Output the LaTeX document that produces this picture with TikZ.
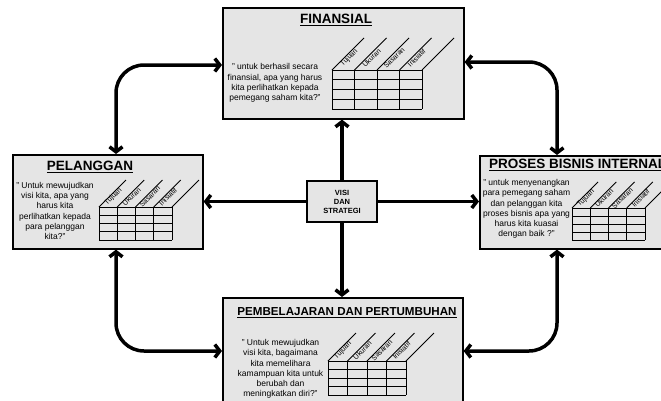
\documentclass[tikz,border=0pt]{standalone}
\usepackage{fontspec}
\setmainfont{Liberation Sans}
\usetikzlibrary{arrows.meta}
\definecolor{panelgray}{gray}{0.9}

% grid with slanted column heads: x0, top y, column width, row height, slant
\newcommand{\kpitable}[5]{%
  \foreach \k in {0,...,4}{
    \draw[gridline] ({#1+\k*#3},#2) -- ++(0,{4*#4});
    \draw[gridline] ({#1+\k*#3},#2) -- ++(#5,{-#5});
    \draw[gridline] (#1,{#2+\k*#4}) -- ++({4*#3},0);
  }
  \foreach \lab [count=\k from 0] in {Tujuan,Ukuran,Sasaran,Inisiatif}
    \node[collabel] at ({#1+(\k+0.22)*#3+0.38*#5},{#2-0.38*#5}) {\lab};
}

\begin{document}
\begin{tikzpicture}[x=1pt,y=-1pt,
  panel/.style={draw=black, line width=1.6pt, fill=panelgray, anchor=north west, inner sep=0pt},
  visibox/.style={draw=black, line width=1.6pt, fill=panelgray, minimum width=70pt, minimum height=41pt,
    align=center, inner sep=0pt, font=\bfseries\fontsize{7.5}{9}\selectfont},
  title/.style={font=\bfseries\fontsize{13.5}{15}\selectfont, inner sep=0pt},
  quote/.style={font=\fontsize{8.5}{10.3}\selectfont, align=center, inner sep=0pt},
  gridline/.style={line width=0.9pt},
  collabel/.style={font=\fontsize{7}{8}\selectfont, rotate=45, inner sep=0pt},
  arr/.style={line width=3.5pt, -{Straight Barb[length=5pt,width=13pt]}},
  dbl/.style={line width=3.5pt, {Straight Barb[length=5pt,width=13pt]}-{Straight Barb[length=5pt,width=13pt]}, rounded corners=28pt}]

\useasboundingbox (0,0) rectangle (661,400);
\clip (0,0) rectangle (661,400);

% perspective panels
\node[panel, minimum width=241pt, minimum height=111pt] (fin) at (222,7) {};
\node[panel, minimum width=190pt, minimum height=94pt] (pel) at (12,154) {};
\node[panel, minimum width=230pt, minimum height=93pt] (pro) at (479,155) {};
\node[panel, minimum width=240pt, minimum height=120pt] (pem) at (222,297) {};

% titles
\node[title] (fint) at (336,20) {\underline{FINANSIAL}};
\node[title] (pelt) at (90,167) {\underline{PELANGGAN}};
\node[title, anchor=west] (prot) at (489,165) {\underline{PROSES BISNIS INTERNAL}};
\node[title, font=\bfseries\fontsize{11.6}{13}\selectfont] (pemt) at (347,313) {\underline{PEMBELAJARAN DAN PERTUMBUHAN}};

% questions
\node[quote] (finq) at (275,83) {" untuk berhasil secara\\finansial, apa yang harus\\kita perlihatkan kepada\\pemegang saham kita?"};
\node[quote] (pelq) at (55,211) {" Untuk mewujudkan\\visi kita, apa yang\\harus kita\\perlihatkan kepada\\para pelanggan\\kita?"};
\node[quote] (proq) at (526.5,209) {" untuk menyenangkan\\para pemegang saham\\dan pelanggan kita\\proses bisnis apa yang\\harus kita kuasai\\dengan baik ?"};
\node[quote] (pemq) at (280.5,369) {" Untuk mewujudkan\\visi kita, bagaimana\\kita memelihara\\kamampuan kita untuk\\berubah dan\\meningkatkan diri?"};

% measure tables
\kpitable{332}{70}{22.5}{9.75}{32}
\kpitable{99}{207}{18.25}{8.25}{27}
\kpitable{572}{208}{18.25}{8}{26}
\kpitable{328}{361}{19.5}{8.5}{28}

% centre box
\node[visibox] (vis) at (342,201.5) {VISI\\DAN\\STRATEGI};

% arrows from the centre
\draw[arr] (vis.north) -- (fin.south -| vis.north);
\draw[arr] (vis.west) -- (pel.east |- vis.west);
\draw[arr] (vis.east) -- (pro.west |- vis.east);
\draw[arr] (vis.south) -- (pem.north -| vis.south);

% links between neighbouring perspectives
\coordinate (tl) at (116,65);
\coordinate (tr) at (557,62);
\coordinate (bl) at (116,351);
\coordinate (br) at (557,351);
\draw[dbl] (tl -| fin.west) -| (pel.north -| tl);
\draw[dbl] (tr -| fin.east) -| (pro.north -| tr);
\draw[dbl] (pel.south -| bl) |- (pem.west |- bl);
\draw[dbl] (pro.south -| br) |- (pem.east |- br);

\end{tikzpicture}
\end{document}
